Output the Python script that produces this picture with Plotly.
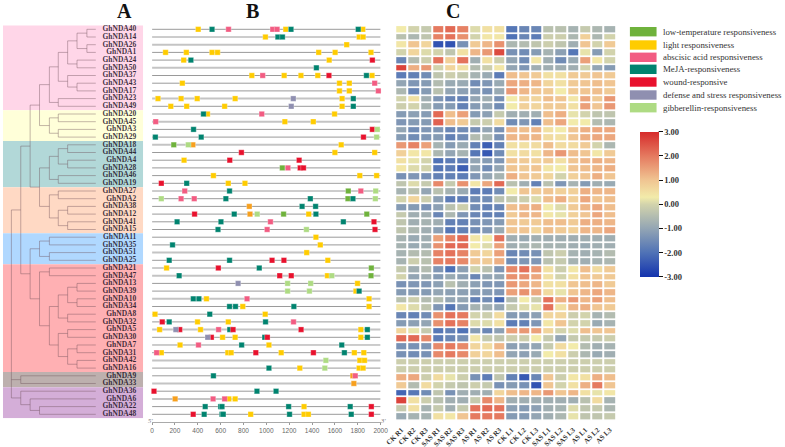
import plotly.graph_objects as go

W, H = 785, 447
SERIF = "Liberation Serif"

genes = [f"GhNDA{n}" for n in [40,14,26,1,24,50,37,43,17,23,49,20,45,3,29,18,44,4,28,46,19,27,2,38,12,41,15,
                               11,35,51,25,21,47,13,39,10,34,8,32,5,30,7,31,42,16,9,33,36,6,22,48]]
gene_length = 2000
light_line_genes = [26,50,23,45,18,51,47,10,5,33,6,42]

samples = ["CK R1","CK R2","CK R3","SAS R1","SAS R2","SAS R3","AS R1","AS R2","AS R3",
           "CK L1","CK L2","CK L3","SAS L1","SAS L2","SAS L3","AS L1","AS L2","AS L3"]

clade_counts = [11, 4, 6, 6, 4, 14, 2, 4]
clade_colors = ["#FFD6E8","#FFFFD9","#B2D8D8","#FFD9C4","#B0D8FF","#FFB0B3","#BDB0AE","#D4AED8"]

low_temp = [(18,190),(28,1140),(27,1717),(2,1714),(12,1151),(12,1879),(21,1919),(47,1916)]
other_orange = [(18,357),(38,851),(12,857),(9,1757),(33,1766),(6,202)]
gibberellin = [(3,1971),(29,1965),(18,317),(27,1957),(2,81),(2,1954),(12,920),(15,1351),(47,1573),
               (13,1186),(13,1388),(39,1186),(39,1377),(42,1521),(16,1512)]
defense = [(23,1236),(49,1218),(13,753),(5,208),(30,487)]
light = [(40,404),(40,1170),(40,1844),(14,992),(14,1813),(14,1847),(26,1703),
         (1,118),(1,300),(1,525),(1,573),(1,1458),(1,1602),(1,1916),(24,277),(24,1550),
         (37,873),(37,1156),(37,1303),(37,1450),(37,1925),(43,265),(43,1640),(43,1726),(17,1640),(17,1726),
         (23,52),(23,254),(23,395),(23,727),(23,1663),(49,164),(49,303),(49,635),(49,1663),
         (20,485),(20,1597),(45,1162),(45,1411),(18,1655),(44,1600),(44,1948),(4,280),
         (46,537),(46,1818),(46,1965),(19,667),(19,813),(12,1371),(11,1434),(35,1472),(51,1353),(25,1538),
         (21,127),(47,1535),(13,1798),(39,1784),(10,476),(10,1899),(34,794),(34,1899),(8,26),(8,990),
         (32,398),(32,667),(5,66),(5,424),(5,1827),(30,617),(30,727),(30,1827),(7,245),(7,1023),
         (31,81),(31,663),(31,692),(31,1130),(31,1770),(31,1853),(42,1818),(42,1859),(16,1293),(16,1812),(16,1847),
         (6,672),(6,727),(22,1330),(48,863),(48,1330),(48,1368)]
abscisic = [(40,669),(40,1056),(40,1094),(37,968),(43,1948),(17,1980),(20,960),(45,32),(28,1189),(27,286),(27,1827),
            (2,254),(2,369),(41,1036),(15,1007),(10,831),(32,1238),(5,582),(7,406),(31,40),(9,1778),(6,534),(6,635)]
meja = [(40,525),(40,1216),(40,1804),(14,1101),(14,1141),(24,340),(50,1438),(37,1876),(23,1761),(49,1761),
        (20,450),(3,363),(29,29),(29,430),(19,303),(27,678),(2,646),(2,1385),(2,1758),(38,1313),(38,1431),
        (12,719),(12,1434),(41,219),(41,603),(41,1674),(15,577),(35,179),(25,150),(25,678),(21,938),(47,237),
        (39,1812),(10,361),(10,410),(34,678),(34,730),(34,1241),(8,505),(32,150),(32,993),(5,680),(5,1884),
        (30,986),(30,1884),(7,784),(7,1660),(31,1683),(16,1023),(9,537),(36,918),(36,1085),
        (22,465),(22,600),(22,612),(22,1195),(22,1734),(48,456),(48,612),(48,623),(48,1203),(48,1743)]
wound = [(24,1928),(37,1548),(3,1928),(29,1850),(44,782),(4,680),(4,1287),(28,1296),(28,1325),(19,81),
         (12,372),(41,1942),(15,1951),(25,1050),(25,1154),(21,580),(47,1117),(47,1218),(32,89),(5,242),(5,709),(5,1304),
         (30,519),(30,1009),(31,908),(31,1412),(36,17),(22,1919),(48,360),(48,1919)]

motif_order = [("low-temperature responsiveness", low_temp, "#6FB23C"),
               ("light responsiveness", light, "#FFCC00"),
               ("abscisic acid responsiveness", abscisic, "#F25C82"),
               ("MeJA-responsiveness", meja, "#00836F"),
               ("wound-responsive", wound, "#E8112D"),
               ("defense and stress responsiveness", defense, "#8F8FB0"),
               ("gibberellin-responsiveness", gibberellin, "#AEDB83")]

expression = [
 [.3,.0,-.2,2.0,2.2,1.9,.1,.5,.5,-1.9,-1.6,-1.6,-.4,-.4,-.7,-.2,-.6,-.7],
 [-.4,-.6,-.3,1.9,2.1,1.7,0,.4,.4,-2.0,-1.6,-1.8,-.1,-.1,-.6,.8,-.6,0],
 [.4,1.0,.7,-2.5,-2.5,-1.4,.9,1.2,1.7,-.6,-.5,-.3,-.1,-.3,-.8,1.0,.0,.9],
 [0,.7,.1,0,-.3,.5,1.2,1.6,2.6,-1.4,-1.5,-1.2,-.7,-1.1,-1.9,.2,-1.2,.0],
 [-1.6,-.5,-.1,2.1,.8,2.1,-.8,.5,-.1,-1.0,-1.5,.4,-.8,-1.5,-.9,1.5,.4,0],
 [2.7,1.3,1.6,0,.7,.5,-.5,-.1,.4,-1.0,-1.3,-.8,-.8,-.8,-.8,0,-1.0,-1.2],
 [-1.8,-1.7,-1.5,-.3,-.1,-.2,-.7,-.9,-1.8,1.1,1.0,.9,.5,.5,.9,.9,1.0,.9],
 [-1.0,-1.3,-1.2,-.5,-.9,-.9,-1.5,-1.3,-.9,1.4,1.3,1.2,.7,.5,.9,1.0,1.1,1.0],
 [-.6,-1.6,-1.2,-.4,-1.0,-1.1,-1.2,-1.4,-.9,1.6,1.2,1.0,.9,.3,.9,1.0,1.1,.9],
 [0,.5,-.8,-1.3,-1.6,-1.7,-1.0,-.8,-1.4,.3,.8,.7,1.1,1.0,.4,1.4,.9,1.6],
 [-.1,0,-.7,-1.2,-1.2,-1.7,-1.2,-1.0,-1.5,.3,.8,.7,.9,.9,.5,1.5,1.0,1.6],
 [-1.2,-1.1,-1.2,2.2,1.1,1.5,-1.2,-1.1,-.2,-.8,-.8,-.8,1.1,1.3,.2,0,-.3,-.3],
 [-1.3,-1.2,-1.2,2.3,1.1,.9,-.2,-.1,.6,-1.5,-1.3,-1.7,1.1,1.4,.3,.3,-.5,-.6],
 [-1.0,-1.5,-1.3,-1.3,-1.6,-1.5,-1.4,-1,-1.4,1.2,1.1,1.2,.5,.3,1.0,1.3,1.4,1.4],
 [-1.2,-1.5,-1.3,-1.2,-1.7,-1.5,-.5,-.6,-1.4,1.2,1.2,1.2,.6,.5,1.0,1.3,1.4,1.4],
 [1.6,1.9,1.5,-.7,-1.2,-.9,-1.7,-2.3,-1.7,.5,.5,.6,1.1,.6,.6,.9,0,-.6],
 [.8,.4,.4,-.6,-1.0,-.7,-1.9,-2.4,-1.5,.5,.6,.5,1.2,1.6,1.1,1.0,.4,.9],
 [.5,.2,0,-2.0,-1.8,-1.8,-1.0,-1.2,-1.3,1.0,.9,.8,.9,.5,1.0,1.2,1.3,1.2],
 [.4,.1,0,-1.9,-1.8,-2.3,-1.0,-1.5,-1.0,1.0,.9,1.0,.4,.3,1.0,1.1,1.2,1.3],
 [-1.4,-1.3,-1.4,-1.7,-1.7,-1.8,-1.3,-1.0,-.7,1.3,1.0,.9,.7,0,.8,1.0,1.3,1.0],
 [-.3,.1,-.2,1.8,-.2,1.7,.4,1.4,2.2,-.4,-.8,-1.7,-.4,-1.3,-.7,-1.2,-.8,-.9],
 [-.7,-.4,-1.0,-.4,-.7,-.9,-1.8,-1.8,-1.5,.3,1.0,.9,1.0,.8,.8,1.3,1.2,1.2],
 [0,.7,-.1,-1.1,-1.8,-1.8,-1.5,-1.5,-.4,-.2,-.1,.1,1.1,1.3,.8,1.4,1.0,1.1],
 [-1.2,-1.2,-1.4,-1.1,-.4,-.1,-1.5,-1.7,-1.6,1.1,1.2,1.3,.3,.1,.9,1.2,1.4,1.1],
 [-.2,-.8,-.8,-1.6,-.6,-1.3,-1.6,-1.7,-1.7,.9,1.2,1.2,.4,.2,.8,1.0,1.4,1.1],
 [-.3,-.8,-.7,-.8,-1.7,-1.7,-1.4,-1.3,-1.2,1.0,.9,.9,1.1,1.1,.9,1.3,1.3,1.2],
 [-.3,-.6,-.8,-1.1,-1.9,-1.7,-1.5,-1.3,-.9,1.0,1.0,.7,1.1,.9,.8,1.2,1.2,1.4],
 [-.7,-.9,-.8,1.5,1.9,2.2,.4,.3,2.1,-.8,-.9,-.8,-.8,-.8,-.8,-.8,-.8,-.8],
 [-.7,-.9,-.8,1.7,2.2,2.2,.3,.1,1.5,-.8,-.7,-.6,-.7,-.7,-.8,-.9,-.8,-.8],
 [-.7,-.5,-.5,1.9,2.1,1.9,.9,.7,1.5,-1.6,-1.5,-1.4,-.3,-.1,-.7,-.8,-.7,-.5],
 [-.7,-.1,-.4,1.9,2.0,1.8,1.0,.9,1.3,-1.5,-1.3,-1.3,-.4,-.2,-.7,-.8,-.7,-.6],
 [-.2,-.8,-.5,-1.3,-2.0,-1.1,0,-.4,-1.3,1.8,2.1,1.6,.5,-.1,.4,1.1,.6,.9],
 [0,-1.0,-.8,-1.2,-.9,-1.1,-1.6,-1.0,-1.0,1.7,1.7,1.4,.5,0,.5,1.0,.9,.9],
 [-1.4,-1.3,-1.3,-1.1,-.4,-.8,-1.1,-1.3,-1.3,1.6,1.4,1.2,.5,.5,1.0,1.1,1.2,.9],
 [-1.2,-1.2,-1.2,-1.0,-1.1,-1.1,-1.2,-1.2,-1.3,1.5,1.7,1.4,.6,.2,1.0,1.2,1.4,1.2],
 [-.4,-.1,-.5,-.5,-1.0,-1.0,-1.7,-1.5,-2.1,-.5,.3,-.1,2.1,1.3,1.6,1.2,1.5,1.1],
 [.4,.1,-.3,-1.3,-1.9,-1.2,-.7,-.8,-1.0,-.2,.1,.2,2.1,.5,1.2,1.3,1.0,.9],
 [-1.6,-1.7,-1.5,1.7,2.1,2.0,0,-.1,.6,-1.2,-1.2,-1.1,.7,.7,-.1,0,-.7,-.5],
 [-1.2,-1.1,-1.0,1.7,2.1,1.9,.1,.1,.5,-1.8,-1.7,-1.3,.4,1.0,0,0,-.9,-.7],
 [.7,.2,-.2,-1.9,-1.7,-2.0,-1.2,-1.6,-1.1,1.5,1.6,1.5,.7,0,.1,1.1,1.0,1.0],
 [2.2,2.2,1.8,-1.8,-1.6,-1.4,.4,-.2,-.3,-.1,-.1,.3,-.2,-1.0,-.2,-.2,-.2,-.1],
 [-1.4,-1.4,-1.3,1.8,2.0,1.8,.7,.6,1.2,-1.1,-1.0,-1.0,-.2,.6,.3,-.5,-.8,-.7],
 [-1.4,-1.5,-1.4,1.8,2.0,1.8,.8,.7,1.1,-1.0,-1.1,-.9,.3,.5,-.1,-.6,-.9,-.8],
 [-.1,-.1,-.1,-.1,-.1,-.1,-.1,-.1,-.1,-.1,-.1,-.1,-.1,-.1,-.1,-.1,-.1,-.1],
 [-.1,-.1,-.1,-.1,-.1,-.1,-.1,-.1,-.1,-.1,-.1,-.1,-.1,-.1,-.1,-.1,-.1,-.1],
 [1.3,1.4,-.1,.6,.2,-.1,-1.4,-1.8,-.3,-1.7,-2.4,-1.6,1.0,-.1,.4,.5,1.3,1.1],
 [.9,-.5,.6,0,-.2,-.3,-.1,-.2,-1.4,-1.2,-1.4,-2.5,1.0,0,.5,1.3,2.0,1.0],
 [-2.2,-1.9,-1.5,-.3,-1.4,-.8,-.8,-.8,.7,1.1,1.2,1.2,1.6,1.0,1.2,.5,.2,.4],
 [2.7,.5,-.1,-.4,-.8,-.8,-.2,1.8,1.2,-.8,-.8,-.8,-.8,-.8,-.8,-.4,.6,-.7],
 [-.2,.5,-.7,-.2,-.8,-.2,2.1,2.2,2.1,-1.1,-1.2,-1.1,-.8,-.7,.1,-.3,-.2,-.6],
 [-.9,-.7,-.7,.5,.4,1.0,2.0,2.0,2.0,-1.2,-1.2,-1.0,-.8,-.6,.2,-.3,-.3,-.2],
]

# tree: (branch depth, children); a bare number is a gene tip
tree = (9.5, [
  (19, [
    (28.5, [
      (38, [
        (48, [
          (57, [
            (66.5, [
              (76, [(86, [40, 14]), (86, [26, 1])]),
              (76, [24, 50]),
            ]),
            (66.5, [37, (76, [43, 17])]),
          ]),
          (57, [23, 49]),
        ]),
        (48, [(57, [20, 45]), (57, [3, 29])]),
      ]),
      (38, [
        (48, [
          (57, [(66.5, [18, 44]), (66.5, [4, 28])]),
          (57, [46, 19]),
        ]),
        (48, [
          (57, [27, 2]),
          (57, [(66.5, [38, 12]), (66.5, [41, 15])]),
        ]),
      ]),
    ]),
    (28.5, [
      (38, [(48, [11, 35]), (48, [51, 25])]),
      (38, [
        (48, [21, 47]),
        (48, [
          (57, [
            (66.5, [(76, [13, 39]), (76, [10, 34])]),
            (66.5, [8, 32]),
          ]),
          (57, [
            (66.5, [5, 30]),
            (66.5, [(76, [7, 31]), (76, [42, 16])]),
          ]),
        ]),
      ]),
    ]),
  ]),
  (19, [9, 33]),
  (19, [36, (28.5, [6, (38, [22, 48])])]),
])
tip_depth = 95
label_end = 136
panel_width = 143

row_of = {int(g[5:]): i for i, g in enumerate(genes)}
tx, ty = [], []
def walk(node):
    if not isinstance(node, tuple):
        return tip_depth, row_of[node]
    d, kids = node
    pts = [walk(k) for k in kids]
    ys = [p[1] for p in pts]
    tx.extend([d, d, None]); ty.extend([min(ys), max(ys), None])
    for cx, cy in pts:
        tx.extend([d, cx, None]); ty.extend([cy, cy, None])
    return d, (min(ys) + max(ys)) / 2
walk(tree)

fig = go.Figure()

# clade backgrounds
start = 0
for i, (n, c) in enumerate(zip(clade_counts, clade_colors)):
    fig.add_shape(type="rect", xref="x", yref="y", x0=1, x1=panel_width,
                  y0=(start - 0.5 - (0.55 if i == 0 else 0)), y1=start + n - 0.5,
                  fillcolor=c, line_width=0, layer="below")
    start += n

fig.add_trace(go.Scatter(x=tx, y=ty, mode="lines", xaxis="x", yaxis="y", hoverinfo="skip",
                         line=dict(color="rgba(105,75,85,0.4)", width=1), showlegend=False))
fig.add_trace(go.Scatter(x=[label_end] * len(genes), y=list(range(len(genes))), mode="text", text=genes,
                         textposition="middle left", xaxis="x", yaxis="y", showlegend=False, cliponaxis=False,
                         textfont=dict(family=SERIF, size=7.5, weight=700, color="rgba(25,15,30,0.85)")))

# gene backbones
bx, by, lx, ly = [], [], [], []
for i, g in enumerate(genes):
    if int(g[5:]) in light_line_genes:
        lx += [0, gene_length, None]; ly += [i, i, None]
    else:
        bx += [0, gene_length, None]; by += [i, i, None]
fig.add_trace(go.Scatter(x=bx, y=by, mode="lines", xaxis="x2", yaxis="y", line=dict(color="#9a9a9a", width=1),
                         hoverinfo="skip", showlegend=False))
fig.add_trace(go.Scatter(x=lx, y=ly, mode="lines", xaxis="x2", yaxis="y", line=dict(color="#c4c4c4", width=2),
                         hoverinfo="skip", showlegend=False))

def add_motifs(name, pairs, color):
    fig.add_trace(go.Scatter(x=[p for _, p in pairs], y=[row_of[g] for g, _ in pairs], mode="markers",
                             xaxis="x2", yaxis="y", name=name, showlegend=False, cliponaxis=False,
                             marker=dict(symbol="square", size=5.4, color=color, line=dict(width=0.6, color="rgba(255,255,255,0.5)"))))
add_motifs("other", other_orange, "#F7A01E")
for name, pairs, color in motif_order:
    add_motifs(name, pairs, color)

colorscale = [[0, "#1433AE"], [1/6, "#4F72B6"], [2/6, "#93A5B4"], [0.5, "#D2D3AC"], [0.55, "#F2EBAA"],
              [4/6, "#F0C592"], [5/6, "#E57A60"], [1, "#D62B2B"]]
cb_top, cb_bot = 131.7, 276.7
fig.add_trace(go.Heatmap(z=expression, x=samples, y=list(range(len(genes))), xaxis="x3", yaxis="y3",
                         zmin=-3, zmax=3, colorscale=colorscale, xgap=2, ygap=1.7,
                         colorbar=dict(x=646 / W, xanchor="left", xpad=0, ypad=0, y=1 - cb_top / H, yanchor="top",
                                       len=(cb_bot - cb_top) / H, thickness=19, outlinewidth=0,
                                       tickvals=[3, 2, 1, 0, -1, -2, -3],
                                       ticktext=["3.00", "2.00", "1.00", "0.00", "-1.00", "-2.00", "-3.00"],
                                       ticks="outside", ticklen=4, tickwidth=1, tickcolor="#111",
                                       tickfont=dict(family=SERIF, size=8.5, weight=700, color="#333"))))

fig.update_layout(
    width=W, height=H, autosize=False, margin=dict(l=0, r=0, t=0, b=0),
    paper_bgcolor="white", plot_bgcolor="rgba(0,0,0,0)", showlegend=False,
    xaxis=dict(domain=[0, panel_width / W], range=[0, panel_width], visible=False),
    yaxis=dict(domain=[1 - 418.15 / H, 1 - 25.45 / H], range=[len(genes) - 0.5, -0.5], visible=False),
    xaxis2=dict(domain=[152 / W, 383.5 / W], range=[0, 2000], anchor="free", position=1 - 422 / H,
                tickvals=list(range(0, 2001, 200)), ticks="outside", ticklen=2, tickcolor="#999",
                showline=True, linecolor="#aaa", linewidth=1, showgrid=False, zeroline=False,
                tickfont=dict(family="Liberation Sans", size=6.5, color="#666")),
    xaxis3=dict(domain=[398.3 / W, 621.7 / W], anchor="y3", showgrid=False, zeroline=False, ticks="",
                ticklabelstandoff=3,
                tickangle=-45, tickfont=dict(family=SERIF, size=7, weight=700, color="#333"), automargin=False),
    yaxis3=dict(domain=[1 - 420.6 / H, 1 - 26.1 / H], range=[len(genes) - 0.5, -0.5], visible=False),
)

def note(x, y, text, size, color="#111", weight=400, anchor="center", style="normal"):
    fig.add_annotation(xref="paper", yref="paper", x=x / W, y=1 - y / H, text=text, showarrow=False,
                       xanchor=anchor, yanchor="middle",
                       font=dict(family=SERIF, size=size, color=color, weight=weight, style=style))

note(124, 11, "A", 20, weight=700)
note(254, 11, "B", 20, weight=700)
note(457, 11, "C", 20, weight=700)
note(150, 420.5, "5'", 6.5, color="#777", style="italic")
note(386, 420.5, "3'", 6.5, color="#777", style="italic")

legend_y = [31.7, 45, 57.3, 69.3, 82, 95, 107.7]
for yy, (name, _, color) in zip(legend_y, motif_order):
    fig.add_shape(type="rect", xref="paper", yref="paper", x0=636 / W, x1=663 / W, y0=1 - (yy - 4.7) / H, y1=1 - (yy + 4.7) / H,
                  fillcolor=color, line_width=0)
    note(667, yy, name, 8.8, color="#333", anchor="left")

fig.add_shape(type="line", xref="paper", yref="paper", x0=665 / W, x1=665 / W, y0=1 - cb_top / H, y1=1 - cb_bot / H,
              line=dict(color="#111", width=1))

fig.write_html("out.html", config={"displayModeBar": False},
               post_script="document.body.style.margin='0';document.body.style.overflow='hidden';")
